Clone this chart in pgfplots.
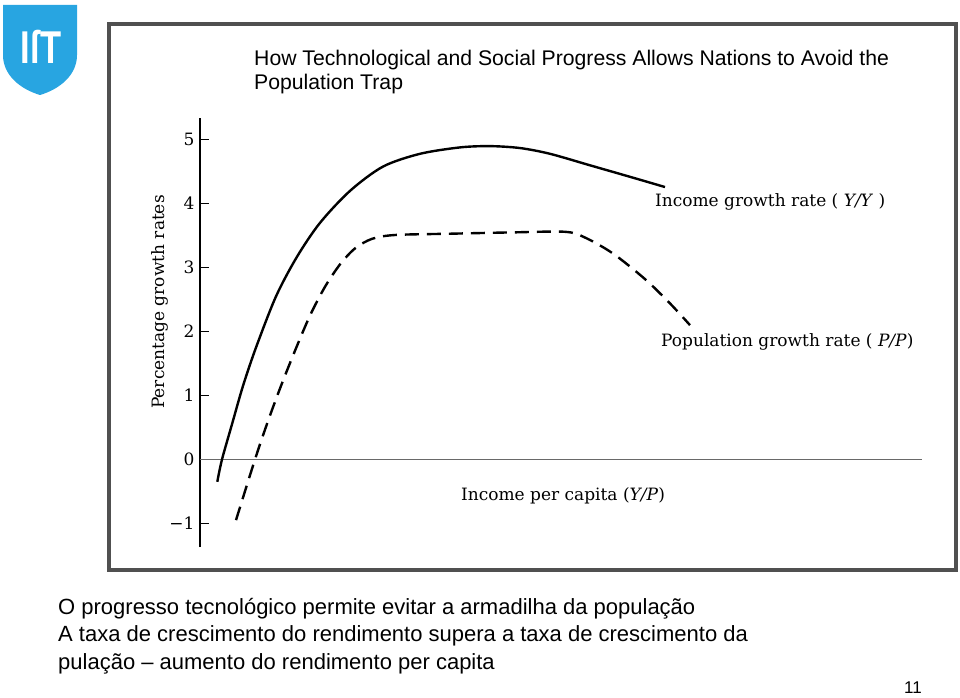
\documentclass[border=0pt]{standalone}
\usepackage{pgfplots}
\pgfplotsset{compat=1.18}
\usepackage{fontspec}
\newfontfamily\arial{Liberation Sans}
\newfontfamily\chartserif{DejaVu Serif}
\definecolor{istblue}{RGB}{40,165,225}
\definecolor{framegray}{RGB}{80,80,80}
\definecolor{zerogray}{RGB}{105,105,105}

\begin{document}
\begin{tikzpicture}[x=1pt,y=1pt]
\path[fill=white] (0,0) rectangle (960,697);
% logo
\fill[istblue] (3,692) -- (77,692) -- (77,642) .. controls (77,622) and (60,608) .. (40,602) .. controls (20,608) and (3,622) .. (3,642) -- cycle;
\node[white, xscale=0.75, font=\arial\bfseries\fontsize{46}{46}\selectfont] at (41,650) {I\char"017F T};
% frame
\draw[framegray, line width=4pt] (109,127) rectangle (956,673);

\begin{axis}[
  at={(200pt,150pt)}, anchor=south west,
  scale only axis, width=722pt, height=429pt,
  xmin=200, xmax=922, ymin=-1.37, ymax=5.34,
  axis x line=none, axis y line=left,
  axis line style={-, line width=1.2pt, black},
  ytick={-1,0,1,2,3,4,5},
  yticklabels={−1,0,1,2,3,4,5},
  tick align=inside, major tick length=9pt,
  ytick style={line width=1pt, black},
  yticklabel style={font=\chartserif\fontsize{17}{17}\selectfont, xshift=-2pt},
  /pgf/number format/assume math mode=true,
  clip=false]
\addplot[zerogray, line width=1.7pt] coordinates {(200,0) (922,0)};
\addplot[black, line width=2.4pt, smooth] coordinates {
(217.3,-0.35) (222,0) (232,0.55) (243,1.15) (256,1.75) (276,2.55) (297,3.17)
(320,3.70) (350,4.20) (383,4.58) (420,4.78) (460,4.88) (490,4.90) (520,4.87)
(550,4.78) (590,4.60) (630,4.42) (665,4.26)};
\addplot[black, line width=2.4pt, smooth, dash pattern=on 14pt off 8pt] coordinates {
(236,-0.95) (255,0) (268,0.6) (281,1.15) (295,1.7) (310,2.25) (325,2.7)
(340,3.05) (355,3.30) (372,3.45) (395,3.51) (450,3.53) (510,3.55) (565,3.56)
(585,3.47) (613,3.22) (645,2.82) (670,2.44) (690,2.10)};
\end{axis}

% chart texts
\node[rotate=90, font=\chartserif\fontsize{17}{17}\selectfont] at (160,395) {Percentage growth rates};
\node[anchor=base west, inner sep=0, font=\chartserif\fontsize{17}{17}\selectfont] at (655,490) {Income growth rate ( \textit{Y/Y} )};
\node[anchor=base west, inner sep=0, font=\chartserif\fontsize{17}{17}\selectfont] at (661,351) {Population growth rate ( \textit{P/P})};
\node[anchor=base west, inner sep=0, font=\chartserif\fontsize{17}{17}\selectfont] at (461,197) {Income per capita (\textit{Y/P})};
% title
\node[anchor=base west, inner sep=0, font=\arial\fontsize{21.2}{21.2}\selectfont] at (254,631) {How Technological and Social Progress Allows Nations to Avoid the};
\node[anchor=base west, inner sep=0, font=\arial\fontsize{21.2}{21.2}\selectfont] at (254,607) {Population Trap};
% slide text
\node[anchor=base west, inner sep=0, font=\arial\fontsize{22}{22}\selectfont] at (58,83) {O progresso tecnológico permite evitar a armadilha da população};
\node[anchor=base west, inner sep=0, font=\arial\fontsize{22}{22}\selectfont] at (58,56) {A taxa de crescimento do rendimento supera a taxa de crescimento da};
\node[anchor=base west, inner sep=0, font=\arial\fontsize{22}{22}\selectfont] at (58,28) {pulação – aumento do rendimento per capita};
\node[anchor=base east, inner sep=0, font=\arial\fontsize{17}{17}\selectfont] at (922,4) {11};
\end{tikzpicture}
\end{document}
